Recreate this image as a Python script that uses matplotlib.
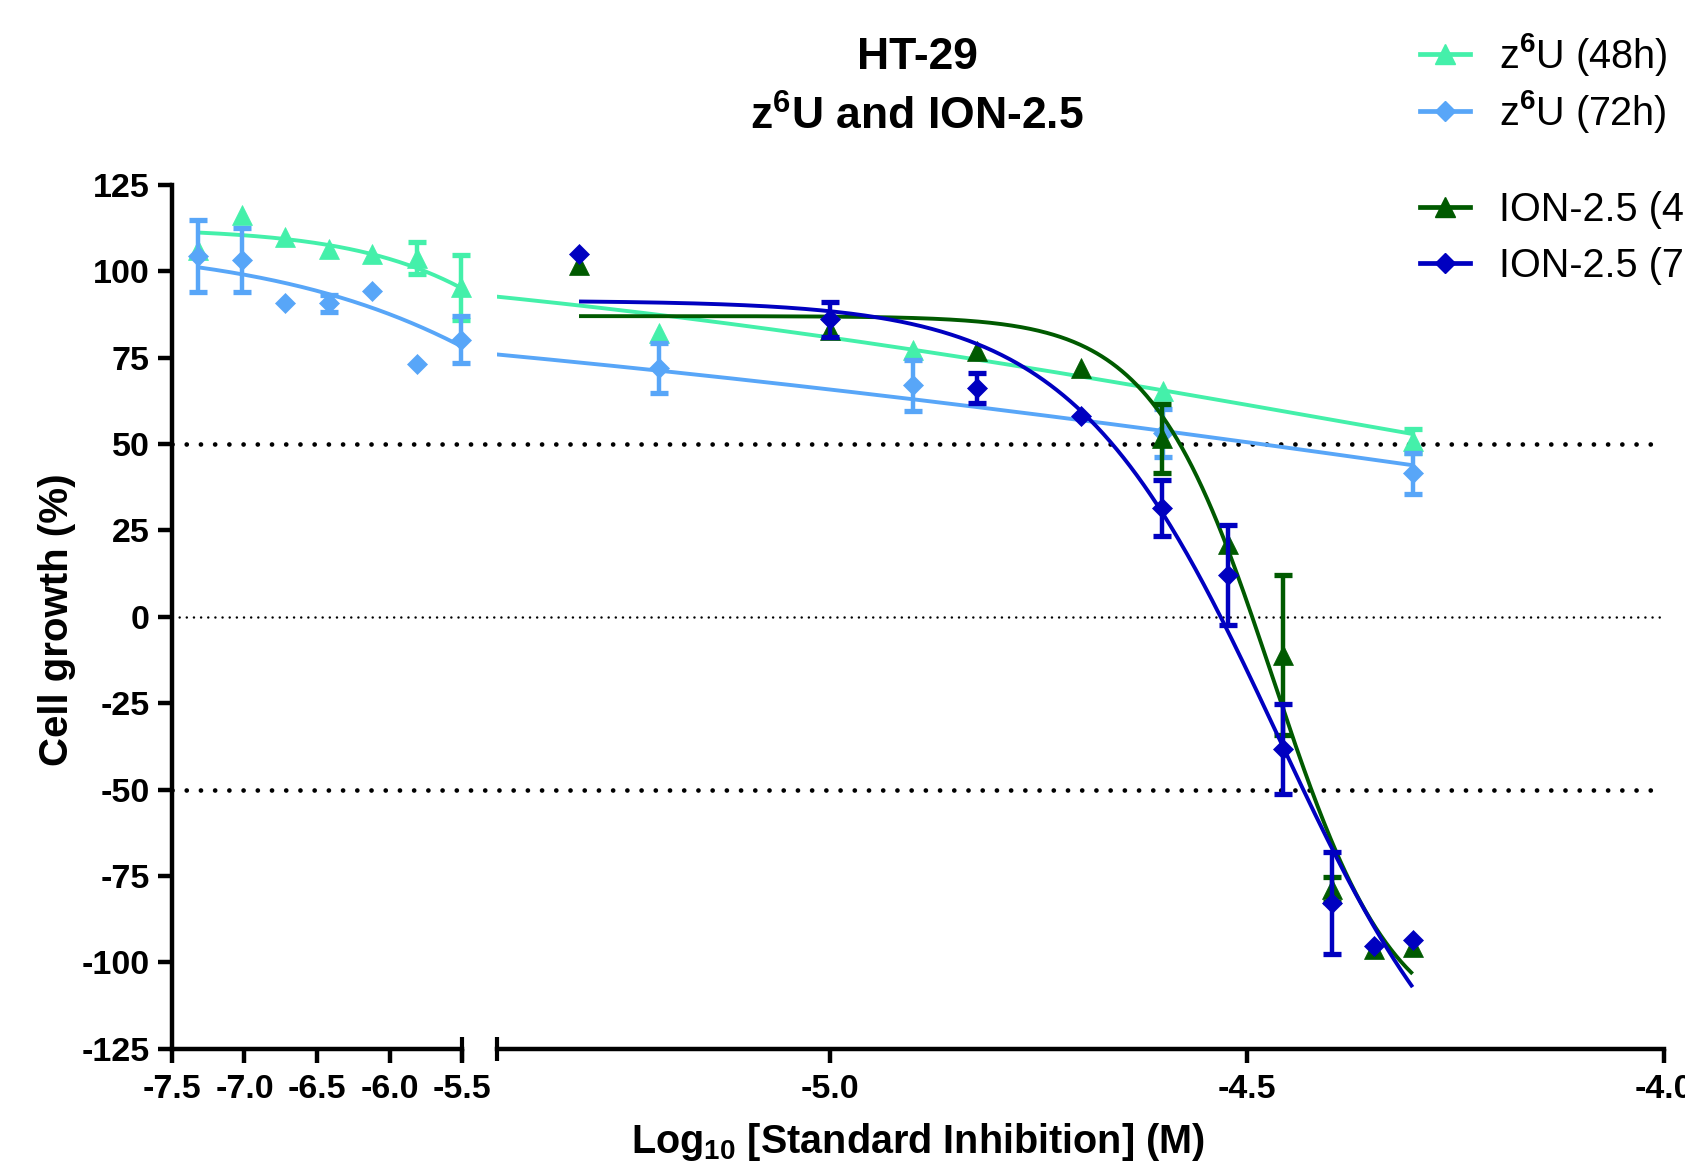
import numpy as np
import matplotlib
matplotlib.use("Agg")
import matplotlib.pyplot as plt
from matplotlib.lines import Line2D

plt.rcParams['font.family'] = ['Liberation Sans', 'DejaVu Sans']
plt.rcParams['font.weight'] = 'bold'
plt.rcParams['mathtext.fontset'] = 'custom'
plt.rcParams['mathtext.rm'] = 'Liberation Sans'
plt.rcParams['mathtext.bf'] = 'Liberation Sans:bold'
plt.rcParams['mathtext.it'] = 'Liberation Sans:italic'
plt.rcParams['axes.unicode_minus'] = False

# ---------------- data ----------------
log_conc_z6u = [-7.32, -7.02, -6.72, -6.42, -6.12, -5.81, -5.51, -5.205, -4.90, -4.60, -4.30]
z6u_48h = [106.0, 116.4, 109.8, 106.3, 105.1, 103.8, 95.3, 82.0, 77.2, 65.2, 50.9]
z6u_48h_sem = [0, 0, 0, 0, 0, 4.7, 9.4, 0, 0, 0, 3.5]
z6u_72h = [104.4, 103.2, 90.9, 90.7, 94.3, 73.2, 80.2, 71.9, 67.0, 53.2, 41.5]
z6u_72h_sem = [10.4, 9.2, 0, 2.5, 0, 0, 6.9, 7.2, 7.4, 6.9, 6.0]

log_conc_ion = [-5.301, -5.000, -4.824, -4.699, -4.602, -4.523, -4.456, -4.398, -4.347, -4.301]
ion_48h = [101.8, 83.0, 77.0, 71.9, 51.7, 21.1, -11.1, -78.9, -96.0, -95.5]
ion_48h_sem = [0, 0, 0, 0, 10.0, 0, 23.2, 3.6, 0, 0]
ion_72h = [105.0, 86.1, 66.1, 58.0, 31.5, 12.1, -38.2, -82.8, -95.2, -93.4]
ion_72h_sem = [0, 5.0, 4.3, 0, 8.2, 14.5, 13.0, 14.8, 0, 0]

# fitted dose-response parameters: top, bottom, logIC50, hill slope
fit_z6u_48h = (112.5, 0.0, -4.38, 0.656)
fit_z6u_72h = (108.0, -50.0, -3.877, 0.39)
fit_ion_48h = (87.0, -122.0, -4.469, 6.0)
fit_ion_72h = (91.5, -160.0, -4.463, 3.55)

left_xticks = [-7.5, -7.0, -6.5, -6.0, -5.5]
right_xticks = [-5.0, -4.5, -4.0]
yticks = [-125, -100, -75, -50, -25, 0, 25, 50, 75, 100, 125]

labels = ['z$^{6}$U (48h)', 'z$^{6}$U (72h)', 'ION-2.5 (48h)', 'ION-2.5 (72h)']
colors = ['#44F0AA', '#58A6F8', '#005A00', '#0000C0']
markers = ['^', 'D', '^', 'D']
msizes = [14.0, 10.2, 14.0, 10.2]

series = [
    (log_conc_z6u, z6u_48h, z6u_48h_sem, fit_z6u_48h),
    (log_conc_z6u, z6u_72h, z6u_72h_sem, fit_z6u_72h),
    (log_conc_ion, ion_48h, ion_48h_sem, fit_ion_48h),
    (log_conc_ion, ion_72h, ion_72h_sem, fit_ion_72h),
]

# ---------------- layout ----------------
W, H = 1685, 1161
fig = plt.figure(figsize=(W / 100, H / 100), dpi=100)


def frac(x0, y0, x1, y1):
    return [x0 / W, 1 - y1 / H, (x1 - x0) / W, (y1 - y0) / H]


X_AX0, X_BRK0, X_BRK1, X_AX1 = 171.9, 462.1, 496.5, 1663.5
Y_TOP, Y_BOT = 184.8, 1048.8

ax_bg = fig.add_axes(frac(X_AX0, Y_TOP, X_AX1, Y_BOT))
ax_bg.set_xlim(0, 1)
ax_bg.set_ylim(-125, 125)
ax_bg.axis('off')
ax_bg.set_zorder(0)

axL = fig.add_axes(frac(X_AX0, Y_TOP, X_BRK0, Y_BOT))
axR = fig.add_axes(frac(X_BRK1, Y_TOP, X_AX1, Y_BOT))
for ax in (axL, axR):
    ax.set_zorder(1)
    ax.set_facecolor('none')
    ax.set_ylim(-125, 125)
    for s in ax.spines.values():
        s.set_linewidth(3.2)
        s.set_capstyle('projecting')
    ax.spines['top'].set_visible(False)
    ax.spines['right'].set_visible(False)
    ax.tick_params(axis='both', direction='out', length=10, width=3.2,
                   labelsize=24.5, color='black')
    ax.tick_params(axis='x', pad=8)
    ax.tick_params(axis='y', pad=6)

axL.set_xlim(-7.5, -5.5)
axR.set_xlim(-5.4, -4.0)
axR.spines['left'].set_visible(False)
axR.tick_params(axis='y', left=False, labelleft=False)

axL.set_yticks(yticks)
axL.set_yticklabels([str(v) for v in yticks])
axL.set_xticks(left_xticks)
axL.set_xticklabels([f'{v:.1f}' for v in left_xticks])
axR.set_xticks(right_xticks)
axR.set_xticklabels([f'{v:.1f}' for v in right_xticks])
for ax in (axL, axR):
    for lab in ax.get_xticklabels() + ax.get_yticklabels():
        lab.set_fontweight('bold')

# axis break marks
axL.plot([1], [0], transform=axL.transAxes, marker='|', ms=17, mew=3.0,
         color='black', clip_on=False, zorder=5)
axR.plot([0], [0], transform=axR.transAxes, marker='|', ms=17, mew=3.0,
         color='black', clip_on=False, zorder=5)

# dotted reference lines
ax_bg.axhline(50, color='black', lw=3.4, linestyle=(0, (0.01, 3.0)),
              dash_capstyle='round')
ax_bg.axhline(-50, color='black', lw=3.4, linestyle=(0, (0.01, 3.0)),
              dash_capstyle='round')
ax_bg.axhline(0, color='black', lw=1.8, linestyle=(0, (0.01, 2.85)),
              dash_capstyle='round')


def logistic(x, p):
    top, bottom, c, h = p
    return bottom + (top - bottom) / (1 + 10 ** ((x - c) * h))


for i, (xs, ys, es, p) in enumerate(series):
    xs = np.asarray(xs, float)
    ys = np.asarray(ys, float)
    es = np.asarray(es, float)
    z = 2 + i
    col = colors[i]
    xx = np.linspace(xs.min(), xs.max(), 500)
    for ax in (axL, axR):
        ax.plot(xx, logistic(xx, p), color=col, lw=2.8, zorder=z,
                solid_capstyle='butt')
    for ax, mask in ((axL, xs < -5.45), (axR, xs >= -5.45)):
        if not mask.any():
            continue
        em = mask & (es > 0)
        if em.any():
            cont = ax.errorbar(xs[em], ys[em], yerr=es[em], fmt='none',
                               ecolor=col, elinewidth=3.2, capsize=6.8,
                               capthick=3.8, zorder=z + 0.2)
            for art in cont.get_children():
                art.set_clip_on(False)
        ax.plot(xs[mask], ys[mask], linestyle='none', marker=markers[i],
                ms=msizes[i], color=col, mec=col, mew=0.5,
                zorder=z + 0.4, clip_on=False)

# titles and axis labels
fig.text(917 / W, 1 - 69 / H, 'HT-29', ha='center', va='baseline',
         fontsize=32, fontweight='bold')
fig.text(917 / W, 1 - 130 / H, r'z$^{\mathbf{6}}$U and ION-2.5',
         ha='center', va='baseline', fontsize=32, fontweight='bold')
fig.text(56.7 / W, 1 - 620 / H, 'Cell growth (%)', rotation=90,
         ha='center', va='center', fontsize=29, fontweight='bold')
fig.text(917.7 / W, 1 - 1153 / H, r'Log$_{\mathbf{10}}$ [Standard Inhibition] (M)',
         ha='center', va='baseline', fontsize=28.5, fontweight='bold')

# legends
handles = [Line2D([], [], color=colors[i], lw=3.4, marker=markers[i],
                  ms=msizes[i], mec=colors[i]) for i in range(4)]
common = dict(frameon=False, fontsize=28.5, handlelength=1.26,
              handletextpad=0.73, borderpad=0,
              borderaxespad=0, loc='upper left')
leg1 = fig.legend(handles[:2], labels[:2], labelspacing=0.25,
                  bbox_to_anchor=(1420 / W, 1 - 31 / H), **common)
leg2 = fig.legend(handles[2:], labels[2:], labelspacing=0.45,
                  bbox_to_anchor=(1420 / W, 1 - 191 / H), **common)
for lg in (leg1, leg2):
    for t in lg.get_texts():
        t.set_fontweight('normal')

fig.savefig('out.png', dpi=100)
